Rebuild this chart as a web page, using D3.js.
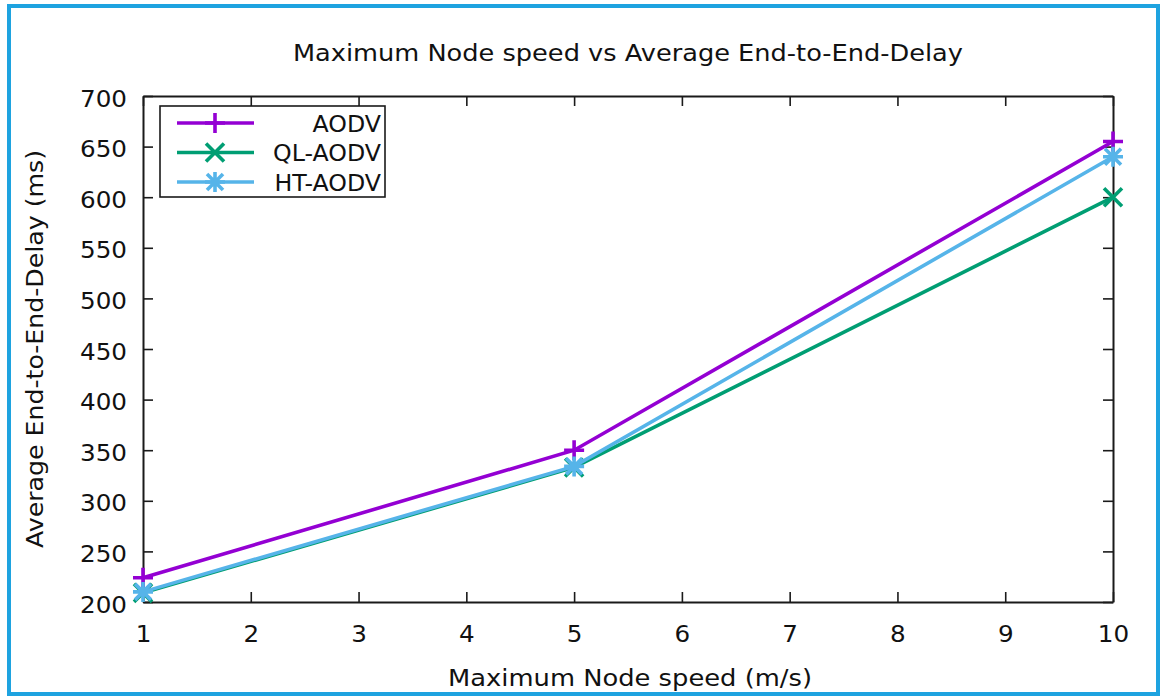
<!DOCTYPE html>
<html>
<head>
<meta charset="utf-8">
<script src="https://cdn.jsdelivr.net/npm/d3@7"></script>
<style>
  html, body { margin: 0; padding: 0; background: #fff; }
  svg { display: block; }
  text { font-family: "DejaVu Sans", sans-serif; fill: #111; }
</style>
</head>
<body>
<svg id="chart" width="1160" height="696"></svg>
<script>
// ---- data ----
const speeds = [1, 5, 10];
const aodv   = [224, 350, 655];
const qlAodv = [209, 333, 600];
const htAodv = [210, 334, 640];
const seriesNames = ["AODV", "QL-AODV", "HT-AODV"];
const xTicks = [1, 2, 3, 4, 5, 6, 7, 8, 9, 10];
const yTicks = [200, 250, 300, 350, 400, 450, 500, 550, 600, 650, 700];
const titleText = "Maximum Node speed vs Average End-to-End-Delay";
const xLabelText = "Maximum Node speed (m/s)";
const yLabelText = "Average End-to-End-Delay (ms)";

const series = [
  { name: seriesNames[0], values: aodv,   color: "#9400d3", marker: "plus" },
  { name: seriesNames[1], values: qlAodv, color: "#009e73", marker: "cross" },
  { name: seriesNames[2], values: htAodv, color: "#56b4e9", marker: "star" }
];

const svg = d3.select("#chart");
const plot = { left: 143, right: 1113, top: 96, bottom: 602 };
const FONT = 23;
const LW = 3.6;

// outer blue frame
svg.append("rect").attr("x", 9).attr("y", 6).attr("width", 1149).attr("height", 688)
  .attr("fill", "none").attr("stroke", "#1ea3e0").attr("stroke-width", 4);

const x = d3.scaleLinear().domain([1, 10]).range([plot.left, plot.right]);
const y = d3.scaleLinear().domain([200, 700]).range([plot.bottom, plot.top]);

function stretch(sel, k) {
  sel.each(function () {
    const len = this.getComputedTextLength();
    d3.select(this).attr("textLength", len * k).attr("lengthAdjust", "spacingAndGlyphs");
  });
}

const axisStyle = g => {
  g.selectAll(".domain").attr("stroke", "#1a1a1a").attr("stroke-width", 2);
  g.selectAll(".tick line").attr("stroke", "#1a1a1a").attr("stroke-width", 1.6);
  g.selectAll(".tick text").attr("font-size", FONT).attr("font-family", "DejaVu Sans").attr("fill", "#111");
};

// bottom axis
const gx = svg.append("g").attr("transform", `translate(0,${plot.bottom})`)
  .call(d3.axisBottom(x).tickValues(xTicks).tickFormat(d3.format("d"))
    .tickSizeInner(-10).tickSizeOuter(0).tickPadding(24));
axisStyle(gx);
gx.selectAll(".tick text").attr("dy", "0.71em");
stretch(gx.selectAll(".tick text"), 1.07);

// top axis (mirror ticks)
const gxt = svg.append("g").attr("transform", `translate(0,${plot.top})`)
  .call(d3.axisTop(x).tickValues(xTicks).tickFormat("").tickSizeInner(-10).tickSizeOuter(0));
axisStyle(gxt);

// left axis
const gy = svg.append("g").attr("transform", `translate(${plot.left},0)`)
  .call(d3.axisLeft(y).tickValues(yTicks).tickFormat(d3.format("d"))
    .tickSizeInner(-10).tickSizeOuter(0).tickPadding(16));
axisStyle(gy);
gy.selectAll(".tick text").attr("dy", 10);
stretch(gy.selectAll(".tick text"), 1.07);

// right axis (mirror ticks)
const gyr = svg.append("g").attr("transform", `translate(${plot.right},0)`)
  .call(d3.axisRight(y).tickValues(yTicks).tickFormat("").tickSizeInner(-10).tickSizeOuter(0));
axisStyle(gyr);

// title and axis labels
svg.append("text").attr("x", 628).attr("y", 61).attr("text-anchor", "middle")
  .attr("font-size", FONT).text(titleText)
  .attr("textLength", 670).attr("lengthAdjust", "spacingAndGlyphs");
svg.append("text").attr("x", 630).attr("y", 686).attr("text-anchor", "middle")
  .attr("font-size", FONT).text(xLabelText)
  .attr("textLength", 364).attr("lengthAdjust", "spacingAndGlyphs");
svg.append("text").attr("transform", "translate(43,349) rotate(-90)").attr("text-anchor", "middle")
  .attr("font-size", FONT).text(yLabelText)
  .attr("textLength", 398).attr("lengthAdjust", "spacingAndGlyphs");

// marker drawing
function drawMarker(g, type, color, cx, cy) {
  const p = d3.path();
  if (type === "plus") {
    const s = 10;
    p.moveTo(-s, 0); p.lineTo(s, 0);
    p.moveTo(0, -s); p.lineTo(0, s);
  } else if (type === "cross") {
    const s = 9;
    p.moveTo(-s, -s); p.lineTo(s, s);
    p.moveTo(-s, s); p.lineTo(s, -s);
  } else {
    const s = 10, d = 8;
    p.moveTo(-s, 0); p.lineTo(s, 0);
    p.moveTo(0, -s); p.lineTo(0, s);
    p.moveTo(-d, -d); p.lineTo(d, d);
    p.moveTo(-d, d); p.lineTo(d, -d);
  }
  g.append("path").attr("d", p.toString()).attr("transform", `translate(${cx},${cy})`)
    .attr("fill", "none").attr("stroke", color).attr("stroke-width", LW);
}

const line = d3.line().x(d => x(d[0])).y(d => y(d[1]));
const dataG = svg.append("g");
series.forEach(s => {
  const pts = speeds.map((v, i) => [v, s.values[i]]);
  dataG.append("path").datum(pts).attr("d", line)
    .attr("fill", "none").attr("stroke", s.color).attr("stroke-width", LW)
    .attr("stroke-linejoin", "miter");
  pts.forEach(p => drawMarker(dataG, s.marker, s.color, x(p[0]), y(p[1])));
});

// legend
const lg = svg.append("g");
lg.append("rect").attr("x", 160).attr("y", 106).attr("width", 225).attr("height", 91)
  .attr("fill", "#fff").attr("stroke", "#1a1a1a").attr("stroke-width", 1.6);
series.forEach((s, i) => {
  const cy = 123 + i * 29.5;
  lg.append("line").attr("x1", 177).attr("x2", 254).attr("y1", cy).attr("y2", cy)
    .attr("stroke", s.color).attr("stroke-width", LW);
  drawMarker(lg, s.marker, s.color, 215, cy);
  const t = lg.append("text").attr("x", 381).attr("y", cy + 8.6).attr("text-anchor", "end")
    .attr("font-size", FONT).text(s.name);
  stretch(t, 1.03);
});
</script>
</body>
</html>
